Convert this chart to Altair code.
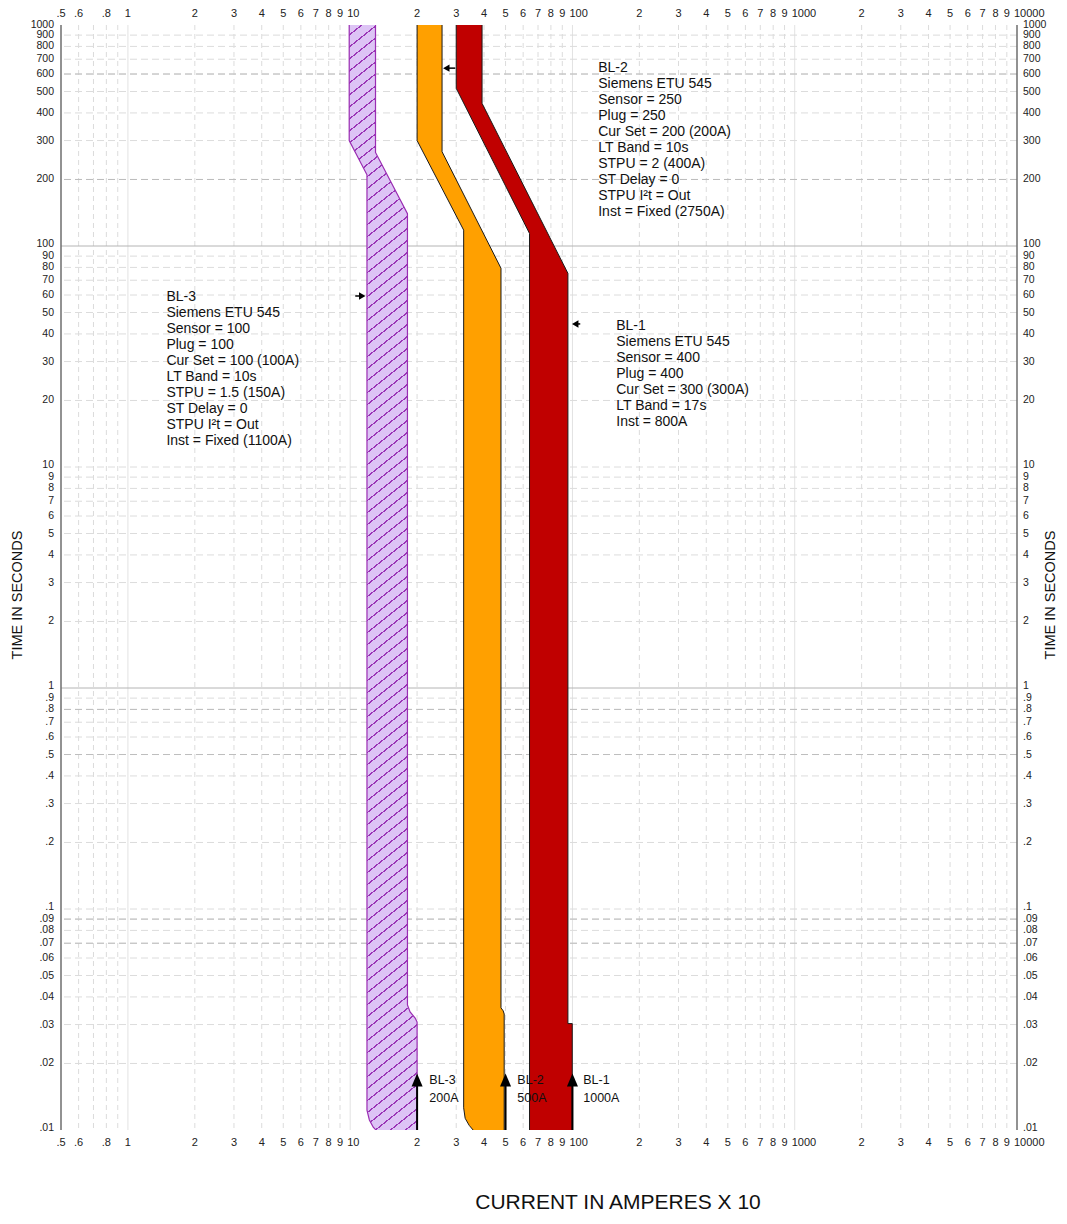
import math
import altair as alt
import pandas as pd

FONT = "Liberation Sans"
W_PLOT, H_PLOT = 956, 1105
X_DOM = [0.5, 10000]
Y_DOM = [0.01, 1000]

# ---------------- band outlines (current in A x10, time in s), clockwise ----------------
# bands run past the plot edges (clipped), as in the original
bl3_x = [9.9, 9.9, 11.9, 11.9, 12.2, 12.7, 13.7, 20.0, 20.0, 19.6, 18.6, 18.1, 18.1, 13.0, 13.0, 9.9]
bl3_y = [1300, 300, 210, 0.0123, 0.0111, 0.0103, 0.0095, 0.0095, 0.0308, 0.0321, 0.0342, 0.0368, 140, 265, 1300, 1300]

bl2_x = [20.0, 20.0, 32.4, 32.4, 32.9, 34.3, 37.3, 49.3, 49.3, 48.8, 47.7, 47.7, 25.9, 25.9, 20.0]
bl2_y = [1300, 300, 118, 0.0126, 0.0113, 0.0105, 0.0095, 0.0095, 0.0335, 0.0346, 0.0357, 79.3, 267, 1300, 1300]

bl1_x = [30.0, 30.0, 64.1, 64.1, 99.8, 99.8, 95.4, 95.4, 39.2, 39.2, 30.0]
bl1_y = [1300, 517, 114, 0.0095, 0.0095, 0.0303, 0.0303, 75.2, 442, 1300, 1300]

# ---------------- bottom arrows ----------------
arrow_x = [20, 50, 100]
arrow_rule_top = [0.0160, 0.0160, 0.0160]
arrow_head_y = [0.01684, 0.01684, 0.01684]
arrow_label = ["BL-3\n200A", "BL-2\n500A", "BL-1\n1000A"]
arrow_label_x = [22.7, 56.5, 111.8]
arrow_label_y = [0.01796, 0.01796, 0.01796]

# ---------------- label pointers ----------------
ptr_head_x = [11.33, 27.06, 102.9]
ptr_tail_x = [10.54, 29.7, 108.4]
ptr_y = [59.4, 638, 44.4]
ptr_shape = ["triangle-right", "triangle-left", "triangle-left"]

# ---------------- setting text blocks ----------------
block_x = [1.49, 130.6, 157.4]
block_y = [62.95, 684, 46.55]
block_text = [
    "BL-3\nSiemens ETU 545\nSensor = 100\nPlug = 100\nCur Set = 100 (100A)\nLT Band = 10s\nSTPU = 1.5 (150A)\nST Delay = 0\nSTPU I\u00b2t = Out\nInst = Fixed (1100A)",
    "BL-2\nSiemens ETU 545\nSensor = 250\nPlug = 250\nCur Set = 200 (200A)\nLT Band = 10s\nSTPU = 2 (400A)\nST Delay = 0\nSTPU I\u00b2t = Out\nInst = Fixed (2750A)",
    "BL-1\nSiemens ETU 545\nSensor = 400\nPlug = 400\nCur Set = 300 (300A)\nLT Band = 17s\nInst = 800A",
]

# ---------------- grid and tick labels ----------------
x_grid_minor = [0.6, 0.7, 0.8, 0.9, 2, 3, 4, 5, 6, 7, 8, 9, 20, 30, 40, 50, 60, 70, 80, 90,
                200, 300, 400, 500, 600, 700, 800, 900, 2000, 3000, 4000, 5000, 6000, 7000, 8000, 9000]
x_grid_decade = [1, 10, 100, 1000]
x_axis_ends = [0.5, 10000]

y_grid_minor = [0.02, 0.03, 0.04, 0.05, 0.06, 0.07, 0.08, 0.09, 0.1, 0.2, 0.3, 0.4, 0.5, 0.6, 0.7, 0.8, 0.9,
                2, 3, 4, 5, 6, 7, 8, 9, 10, 20, 30, 40, 50, 60, 70, 80, 90, 200, 300, 400, 500, 600, 700, 800, 900]
y_grid_dark = [600, 200, 0.8, 0.5, 0.09, 0.07]
y_grid_solid = [1, 100]

x_tick_vals = [0.5, 0.6, 0.8, 1, 2, 3, 4, 5, 6, 7, 8, 9, 10, 20, 30, 40, 50, 60, 70, 80, 90, 100,
               200, 300, 400, 500, 600, 700, 800, 900, 1000, 2000, 3000, 4000, 5000, 6000, 7000, 8000, 9000, 10000]
x_tick_text = [".5", ".6", ".8", "1", "2", "3", "4", "5", "6", "7", "8", "9", "10", "2", "3", "4", "5", "6", "7", "8", "9", "100",
               "2", "3", "4", "5", "6", "7", "8", "9", "1000", "2", "3", "4", "5", "6", "7", "8", "9", "10000"]
x_tick_wide = [False] * 12 + [True] + [False] * 8 + [True] + [False] * 8 + [True] + [False] * 8 + [True]

y_tick_vals = [0.01, 0.02, 0.03, 0.04, 0.05, 0.06, 0.07, 0.08, 0.09,
               0.1, 0.2, 0.3, 0.4, 0.5, 0.6, 0.7, 0.8, 0.9,
               1, 2, 3, 4, 5, 6, 7, 8, 9,
               10, 20, 30, 40, 50, 60, 70, 80, 90,
               100, 200, 300, 400, 500, 600, 700, 800, 900, 1000]
y_tick_text = [".01", ".02", ".03", ".04", ".05", ".06", ".07", ".08", ".09",
               ".1", ".2", ".3", ".4", ".5", ".6", ".7", ".8", ".9",
               "1", "2", "3", "4", "5", "6", "7", "8", "9",
               "10", "20", "30", "40", "50", "60", "70", "80", "90",
               "100", "200", "300", "400", "500", "600", "700", "800", "900", "1000"]
y_tick_decade = [v in (0.01, 0.1, 1, 10, 100) for v in y_tick_vals]

# ---------------- helpers ----------------
xs = alt.Scale(type="log", domain=X_DOM, nice=False)
ys = alt.Scale(type="log", domain=Y_DOM, nice=False)


def X(f="x"):
    return alt.X(f"{f}:Q", scale=xs, axis=None)


def Y(f="y"):
    return alt.Y(f"{f}:Q", scale=ys, axis=None)


def poly_df(xv, yv):
    return pd.DataFrame({"x": xv, "y": yv, "i": list(range(len(xv)))})


# hatch pattern for BL-3 as a striped linear gradient (objectBoundingBox units)
px_per_dec_x = W_PLOT / math.log10(X_DOM[1] / X_DOM[0])
px_per_dec_y = H_PLOT / math.log10(Y_DOM[1] / Y_DOM[0])
bw = px_per_dec_x * math.log10(max(bl3_x) / min(bl3_x))
bh = px_per_dec_y * math.log10(max(bl3_y) / min(bl3_y))
slope = 0.8
gdx = slope * bw / bh
kk = (gdx + 1) / (gdx * gdx + 1)
spacing = 12.0
period = (spacing / bh) / (gdx + 1)
frac = 0.14
light, dark = "#ddc4f5", "#9a36b6"
stops = []
j = 0
while j * period < 1:
    o = j * period
    o2 = min(o + (1 - frac) * period, 1)
    o3 = min(o + period, 1)
    stops += [alt.GradientStop(color=light, offset=round(o, 5)),
              alt.GradientStop(color=light, offset=round(o2, 5)),
              alt.GradientStop(color=dark, offset=round(o2, 5)),
              alt.GradientStop(color=dark, offset=round(o3, 5))]
    j += 1
hatch = alt.LinearGradient(gradient="linear", stops=stops, x1=0, y1=0, x2=gdx * kk, y2=kk)

layers = []

# grid
layers.append(alt.Chart(pd.DataFrame({"x": x_grid_minor})).mark_rule(
    color="#dcdcdc", strokeWidth=1, strokeDash=[5, 4]).encode(x=X()))
layers.append(alt.Chart(pd.DataFrame({"x": x_grid_decade})).mark_rule(
    color="#e2e2e2", strokeWidth=1).encode(x=X()))
layers.append(alt.Chart(pd.DataFrame({"y": y_grid_minor})).mark_rule(
    color="#dcdcdc", strokeWidth=1, strokeDash=[7, 4]).encode(y=Y()))
layers.append(alt.Chart(pd.DataFrame({"y": y_grid_dark})).mark_rule(
    color="#bdbdbd", strokeWidth=1, strokeDash=[7, 4]).encode(y=Y()))
layers.append(alt.Chart(pd.DataFrame({"y": y_grid_solid})).mark_rule(
    color="#b4b4b4", strokeWidth=1).encode(y=Y()))

# bands
layers.append(alt.Chart(poly_df(bl3_x, bl3_y)).mark_line(
    fill=hatch, stroke="#9a2db3", strokeWidth=1.2, clip=True).encode(x=X(), y=Y(), order="i:Q"))
layers.append(alt.Chart(poly_df(bl2_x, bl2_y)).mark_line(
    fill="#ffa000", stroke="#1a1a1a", strokeWidth=1, clip=True).encode(x=X(), y=Y(), order="i:Q"))
layers.append(alt.Chart(poly_df(bl1_x, bl1_y)).mark_line(
    fill="#c00000", stroke="#1a1a1a", strokeWidth=1, clip=True).encode(x=X(), y=Y(), order="i:Q"))

# axis lines
layers.append(alt.Chart(pd.DataFrame({"x": x_axis_ends})).mark_rule(
    color="#6e6e6e", strokeWidth=1.5).encode(x=X()))

# bottom arrows
adf = pd.DataFrame({"x": arrow_x, "y0": [Y_DOM[0]] * 3, "y1": arrow_rule_top, "yh": arrow_head_y,
                    "lx": arrow_label_x, "ly": arrow_label_y, "t": arrow_label})
layers.append(alt.Chart(adf).mark_rule(color="black", strokeWidth=2).encode(
    x=X(), y=Y("y0"), y2="y1:Q"))
layers.append(alt.Chart(adf).mark_point(
    shape="M0,-1L-0.85,1L0.85,1Z", filled=True, color="black", size=169, opacity=1).encode(
    x=X(), y=Y("yh")))
layers.append(alt.Chart(adf).mark_text(
    align="left", baseline="top", lineBreak="\n", lineHeight=18, fontSize=12.5, font=FONT,
    color="#111").encode(x=X("lx"), y=Y("ly"), text="t:N"))

# label pointers
pdf = pd.DataFrame({"hx": ptr_head_x, "tx": ptr_tail_x, "y": ptr_y, "s": ptr_shape})
layers.append(alt.Chart(pdf).mark_rule(color="black", strokeWidth=1.5).encode(
    x=X("hx"), x2="tx:Q", y=Y()))
layers.append(alt.Chart(pdf).mark_point(filled=True, color="black", size=55, opacity=1).encode(
    x=X("hx"), y=Y(), shape=alt.Shape("s:N", scale=None)))

# setting blocks
bdf = pd.DataFrame({"x": block_x, "y": block_y, "t": block_text})
layers.append(alt.Chart(bdf).mark_text(
    align="left", baseline="top", lineBreak="\n", lineHeight=16, fontSize=14, font=FONT,
    color="#111").encode(x=X(), y=Y(), text="t:N"))

# tick labels
xdf = pd.DataFrame({"x": x_tick_vals, "t": x_tick_text, "wide": x_tick_wide})
for ypix in (-11.5, H_PLOT + 13):
    layers.append(alt.Chart(xdf).transform_filter("!datum.wide").mark_text(
        align="center", baseline="middle", fontSize=11, font=FONT, color="#222").encode(
        x=X(), y=alt.value(ypix), text="t:N"))
    layers.append(alt.Chart(xdf).transform_filter("datum.wide").mark_text(
        align="left", baseline="middle", dx=-3, fontSize=11, font=FONT, color="#222").encode(
        x=X(), y=alt.value(ypix), text="t:N"))

ydf = pd.DataFrame({"y": y_tick_vals, "t": y_tick_text, "dec": y_tick_decade})
for xpix, al in ((-7, "right"), (W_PLOT + 6, "left")):
    layers.append(alt.Chart(ydf).transform_filter("!datum.dec").mark_text(
        align=al, baseline="middle", fontSize=10.5, font=FONT, color="#222").encode(
        x=alt.value(xpix), y=Y(), text="t:N"))
    layers.append(alt.Chart(ydf).transform_filter("datum.dec").mark_text(
        align=al, baseline="middle", dy=-2, fontSize=10.5, font=FONT, color="#222").encode(
        x=alt.value(xpix), y=Y(), text="t:N"))

# axis titles
layers.append(alt.Chart(pd.DataFrame({"t": ["CURRENT IN AMPERES X 10"]})).mark_text(
    align="center", baseline="middle", fontSize=21, font=FONT, color="#111").encode(
    x=alt.value(557), y=alt.value(1178), text="t:N"))
for xpix in (-43, 990):
    layers.append(alt.Chart(pd.DataFrame({"t": ["TIME IN SECONDS"]})).mark_text(
        align="center", baseline="middle", angle=270, fontSize=14.5, font=FONT, color="#111").encode(
        x=alt.value(xpix), y=alt.value(570), text="t:N"))

chart = alt.layer(*layers).properties(
    width=W_PLOT, height=H_PLOT,
    padding={"left": 53, "top": 17, "right": 42, "bottom": 86},
    autosize=alt.AutoSizeParams(type="none"),
).configure_view(stroke=None)

chart.save("out.html", embed_options={"renderer": "svg", "actions": False})
